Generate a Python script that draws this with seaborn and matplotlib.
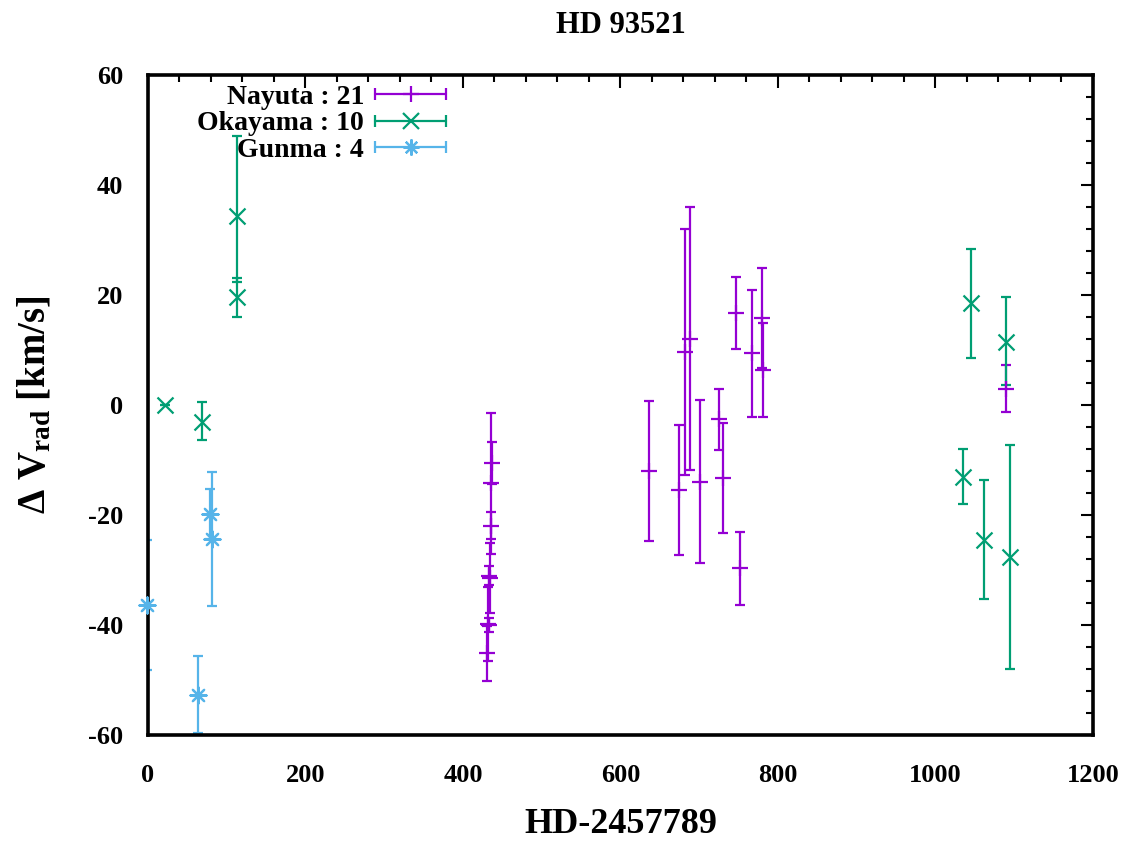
import numpy as np
import pandas as pd
import matplotlib
matplotlib.use("Agg")
import matplotlib.pyplot as plt
import seaborn as sns
from matplotlib.lines import Line2D
from matplotlib.legend_handler import HandlerLine2D, HandlerTuple

# Nayuta (21)
nayuta_x = [437, 436, 435, 433, 434, 432, 433, 431, 636, 674, 682, 688, 701,
            725, 730, 747, 752, 767, 780, 781, 1090]
nayuta_y = [-10.5, -14.2, -21.9, -31.0, -31.4, -39.8, -40.0, -45.1, -12.0, -15.5,
            9.6, 12.1, -13.9, -2.6, -13.2, 16.7, -29.7, 9.4, 15.9, 6.4, 3.0]
nayuta_err = [3.8, 12.8, 2.5, 1.8, 6.4, 6.7, 1.2, 5.0, 12.8, 11.8, 22.4, 23.9,
              14.8, 5.6, 10.0, 6.5, 6.7, 11.5, 9.1, 8.6, 4.3]

# Okayama (10)
okayama_x = [113, 113, 22, 68, 1035, 1045, 1062, 1090, 1095]
okayama_y = [34.4, 19.6, 0.0, -3.0, -13.0, 18.5, -24.5, 11.5, -27.6]
okayama_lo = [12.0, 3.5, 0.0, 3.4, 5.0, 10.0, 10.8, 7.8, 20.3]
okayama_hi = [14.6, 3.5, 0.0, 3.6, 5.0, 9.8, 10.8, 8.2, 20.3]

# Gunma (4)
gunma_x = [-1, 64, 79, 81]
gunma_y = [-36.3, -52.7, -19.8, -24.4]
gunma_err = [11.8, 7.0, 4.5, 12.2]

labels = ["Nayuta : 21", "Okayama : 10", "Gunma : 4"]

c_nayuta = "#9400d3"
c_okayama = "#009e73"
c_gunma = "#56b4e9"

sns.set_style("white")
plt.rcParams["font.family"] = ["Liberation Serif", "DejaVu Serif"]
plt.rcParams["font.weight"] = "bold"
plt.rcParams["axes.unicode_minus"] = False
plt.rcParams["mathtext.fontset"] = "custom"
plt.rcParams["mathtext.rm"] = "Liberation Serif:bold"
plt.rcParams["mathtext.bf"] = "Liberation Serif:bold"
plt.rcParams["mathtext.it"] = "Liberation Serif:italic:bold"
for key in ["text.color", "axes.labelcolor", "xtick.color", "ytick.color"]:
    plt.rcParams[key] = "black"

fig = plt.figure(figsize=(11.32, 8.43), dpi=100)
ax = fig.add_axes([0.1307, 0.128, 0.8348, 0.783])

lw = 1.6
ms = 11.5
kw = dict(fmt="none", elinewidth=lw, capsize=3.5, capthick=lw)

ax.errorbar(nayuta_x, nayuta_y, yerr=nayuta_err, ecolor=c_nayuta, **kw)
ax.errorbar(okayama_x, okayama_y, yerr=[okayama_lo, okayama_hi], ecolor=c_okayama, **kw)
ax.errorbar(gunma_x, gunma_y, yerr=gunma_err, ecolor=c_gunma, **kw)

star = (8, 2, 0)
series = [
    (nayuta_x, nayuta_y, c_nayuta, "+"),
    (okayama_x, okayama_y, c_okayama, "x"),
    (gunma_x, gunma_y, c_gunma, star),
]
for xs, ys, col, mk in series:
    df = pd.DataFrame({"x": xs, "y": ys})
    sns.scatterplot(data=df, x="x", y="y", ax=ax, marker=mk, color=col,
                    s=ms ** 2, linewidth=lw, clip_on=False, zorder=3)

ax.set_xlim(0, 1200)
ax.set_ylim(-60, 60)
ax.set_xticks(np.arange(0, 1201, 200))
ax.set_xticks(np.arange(0, 1201, 40), minor=True)
ax.set_yticks(np.arange(-60, 61, 20))
ax.set_yticks(np.arange(-60, 61, 4), minor=True)
ax.tick_params(which="both", direction="in", top=True, right=True,
               width=1.5, labelsize=19, colors="black")
ax.tick_params(axis="x", which="major", pad=21)
ax.tick_params(axis="y", which="major", pad=18)
ax.tick_params(which="major", length=9)
ax.tick_params(which="minor", length=5)
for lab in ax.get_xticklabels() + ax.get_yticklabels():
    lab.set_fontweight("bold")
for sp in ax.spines.values():
    sp.set_linewidth(2.6)
    sp.set_color("black")

ax.set_xlabel("HD-2457789", fontsize=26, fontweight="bold", labelpad=15)
ax.set_ylabel("Δ V$_{\\rm rad}$ [km/s]", fontsize=28, fontweight="bold", labelpad=24)
ax.set_title("HD 93521", fontsize=22, fontweight="bold", pad=30)

# gnuplot-style legend: text right-aligned, horizontal bar with caps and marker
handles = []
hmap = {}
for col, mk in [(c_nayuta, "+"), (c_okayama, "x"), (c_gunma, star)]:
    bar = Line2D([], [], color=col, lw=lw, marker="|", markersize=8, markeredgewidth=lw)
    pt = Line2D([], [], color=col, lw=0, marker=mk, markersize=ms, markeredgewidth=lw)
    hmap[pt] = HandlerLine2D(numpoints=1)
    handles.append((bar, pt))
hmap[tuple] = HandlerTuple(ndivide=1, pad=0)
leg = ax.legend(handles, labels,
                handler_map=hmap, loc="upper right", bbox_to_anchor=(0.342, 1.011),
                frameon=False, markerfirst=False, numpoints=2, fontsize=20,
                handlelength=3.15, handletextpad=0.1, labelspacing=0.04, borderpad=0.1)
for t in leg.get_texts():
    t.set_fontweight("bold")
    t.set_color("black")

fig.savefig("out.png", dpi=100)
